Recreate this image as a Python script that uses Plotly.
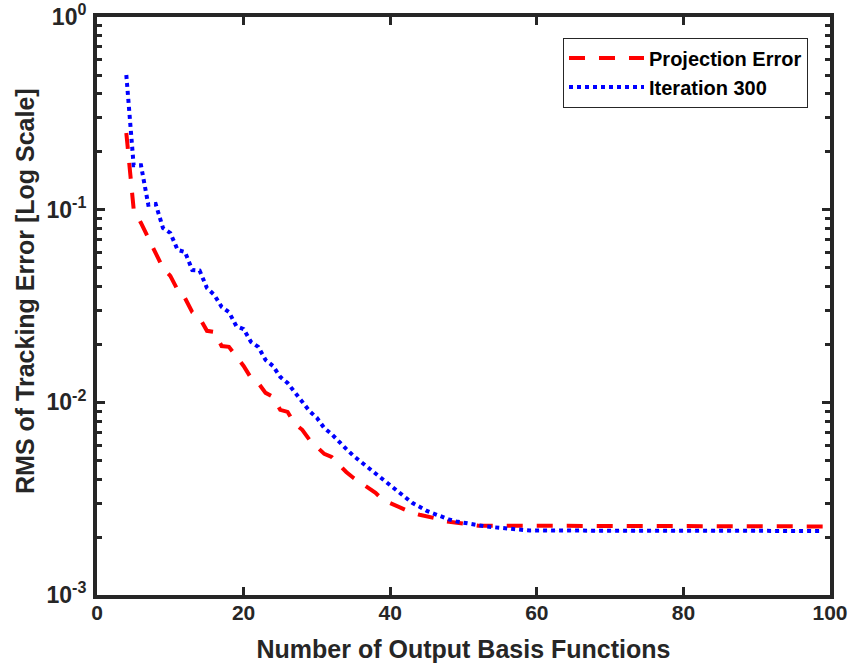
import plotly.graph_objects as go

# Number of output basis functions
n_basis = list(range(4, 100))

# Projection Error (red dashed)
proj_head = [0.250, 0.1008, 0.0853, 0.0713, 0.0596, 0.0498, 0.0453, 0.0383, 0.0348, 0.0294,
             0.0274, 0.0235, 0.0232, 0.0196, 0.0194, 0.0172, 0.01545, 0.0134, 0.0126, 0.0112,
             0.01067, 0.00914, 0.00892, 0.00773, 0.0072, 0.00638, 0.00587, 0.0054, 0.00521, 0.00473,
             0.00435, 0.00405, 0.00382, 0.00364, 0.00339, 0.00312, 0.00301, 0.0029, 0.0028, 0.00267,
             0.00261, 0.00256, 0.00251, 0.00243, 0.00240, 0.00238, 0.00235, 0.00231]
proj_tail = [0.00229, 0.00229, 0.00229, 0.00229, 0.00229, 0.00229, 0.00229, 0.00229, 0.00229, 0.00229,
             0.00229, 0.00229, 0.00229, 0.00229, 0.00228, 0.00228, 0.00228, 0.00228, 0.00228, 0.00228,
             0.00228, 0.00228, 0.00228, 0.00228, 0.00228, 0.00228, 0.00228, 0.00228, 0.00228, 0.00228,
             0.00227, 0.00227, 0.00227, 0.00227, 0.00227, 0.00227, 0.00227, 0.00227, 0.00227, 0.00227,
             0.00227, 0.00227, 0.00227, 0.00227, 0.00227, 0.00227, 0.00227, 0.00227]
projection_error = proj_head + proj_tail

# Iteration 300 (blue dotted)
iter_head = [0.50, 0.170, 0.170, 0.106, 0.107, 0.0804, 0.0757, 0.0618, 0.0603, 0.0486,
             0.0483, 0.0392, 0.0361, 0.0313, 0.0294, 0.0249, 0.0240, 0.0206, 0.0194, 0.0166,
             0.01545, 0.01355, 0.0126, 0.0112, 0.01005, 0.0090, 0.0083, 0.00736, 0.00685, 0.00623,
             0.00573, 0.00527, 0.00491, 0.00457, 0.00425, 0.00396, 0.00368, 0.00343, 0.00319, 0.00301,
             0.00287, 0.00273, 0.00264, 0.00254, 0.00247, 0.00241, 0.00237, 0.00233, 0.00230, 0.00227,
             0.00225, 0.00223, 0.00221, 0.00220, 0.00218]
iter_tail = [0.00216, 0.00216, 0.00216, 0.00215, 0.00215, 0.00215, 0.00215, 0.00215, 0.00215, 0.00215,
             0.00215, 0.00215, 0.00215, 0.00215, 0.00215, 0.00215, 0.00215, 0.00215, 0.00215, 0.00215,
             0.00215, 0.00215, 0.00215, 0.00215, 0.00215, 0.00215, 0.00215, 0.00215, 0.00215, 0.00215,
             0.00215, 0.00215, 0.00215, 0.00215, 0.00215, 0.00215, 0.00215, 0.00215, 0.00215, 0.00215,
             0.00215]
iteration_300 = iter_head + iter_tail

x_ticks = [0, 20, 40, 60, 80, 100]
y_ticks = [0.001, 0.01, 0.1, 1]
y_ticktext = ["10<sup>-3</sup>", "10<sup>-2</sup>", "10<sup>-1</sup>", "10<sup>0</sup>"]
minor_y = [m * d for d in [0.001, 0.01, 0.1] for m in range(2, 10)]

AX = "#262626"
FONT = "Arial, Liberation Sans, sans-serif"

fig = go.Figure()
fig.add_trace(go.Scatter(x=n_basis, y=projection_error, mode="lines", name="Projection Error",
                         line=dict(color="#FF0000", width=4, dash="16px,14px")))
fig.add_trace(go.Scatter(x=n_basis, y=iteration_300, mode="lines", name="Iteration 300",
                         line=dict(color="#0000FF", width=4, dash="4px,4px")))

fig.update_layout(
    width=853, height=669,
    margin=dict(l=97, r=23, t=17, b=74),
    paper_bgcolor="white", plot_bgcolor="white",
    font=dict(family=FONT, color=AX),
    showlegend=True,
    legend=dict(x=0.970, y=0.9645, xanchor="right", yanchor="top",
                bgcolor="white", bordercolor=AX, borderwidth=1,
                font=dict(family=FONT, size=20, weight="bold", color="black"),
                itemwidth=75, tracegroupgap=0),
    xaxis=dict(range=[0, 100], tickvals=x_ticks, ticks="inside", ticklen=8, tickwidth=3,
               tickcolor=AX, showline=True, linecolor=AX, linewidth=4, mirror="ticks",
               showgrid=False, zeroline=False, ticklabelstandoff=-4, automargin=False,
               tickfont=dict(family=FONT, size=21, weight="bold", color=AX),
               title=dict(text="Number of Output Basis Functions", standoff=18,
                          font=dict(family=FONT, size=25, weight="bold", color=AX))),
    yaxis=dict(type="log", range=[-3, 0], tickvals=y_ticks, ticktext=y_ticktext,
               ticks="inside", ticklen=8, tickwidth=3, tickcolor=AX,
               showline=True, linecolor=AX, linewidth=4, mirror="ticks",
               showgrid=False, zeroline=False, ticklabelstandoff=2, automargin=False,
               minor=dict(tickvals=minor_y, ticks="inside", ticklen=5, tickwidth=3, tickcolor=AX, showgrid=False),
               tickfont=dict(family=FONT, size=23, weight="bold", color=AX)),
    annotations=[dict(text="RMS of Tracking Error [Log Scale]", textangle=-90,
                      xref="paper", yref="paper", x=-0.0982, y=0.526,
                      xanchor="center", yanchor="middle", showarrow=False,
                      font=dict(family=FONT, size=25, weight="bold", color=AX))],
)

fig.write_html("out.html")
